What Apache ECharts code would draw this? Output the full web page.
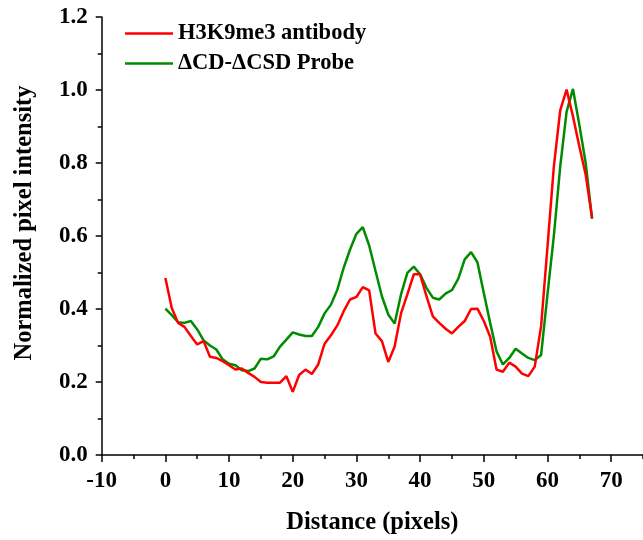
<!DOCTYPE html>
<html>
<head>
<meta charset="utf-8">
<script src="https://cdn.jsdelivr.net/npm/echarts@6/dist/echarts.min.js"></script>
<style>html,body{margin:0;padding:0;background:#fff;}#c{width:643px;height:540px;}</style>
</head>
<body>
<div id="c"></div>
<script>
const distance = [];
for (let i = 0; i <= 67; i++) distance.push(i);
const antibody = [0.485,0.403,0.362,0.351,0.326,0.303,0.312,0.269,0.266,0.257,
  0.246,0.234,0.237,0.225,0.214,0.200,0.198,0.198,0.198,0.216,
  0.173,0.219,0.234,0.222,0.248,0.305,0.328,0.355,0.394,0.426,
  0.433,0.460,0.451,0.333,0.312,0.255,0.297,0.388,0.440,0.495,
  0.495,0.435,0.380,0.362,0.346,0.333,0.351,0.367,0.400,0.401,
  0.367,0.324,0.234,0.228,0.253,0.242,0.223,0.216,0.242,0.353,
  0.570,0.790,0.944,1.001,0.928,0.846,0.768,0.650];
const probe = [0.401,0.383,0.364,0.362,0.367,0.344,0.314,0.300,0.289,0.262,
  0.250,0.246,0.232,0.230,0.237,0.264,0.262,0.270,0.297,0.316,
  0.336,0.330,0.326,0.326,0.351,0.388,0.412,0.453,0.513,0.563,
  0.606,0.624,0.574,0.504,0.435,0.385,0.360,0.440,0.499,0.516,
  0.495,0.458,0.431,0.426,0.442,0.452,0.483,0.536,0.556,0.528,
  0.444,0.362,0.284,0.248,0.266,0.291,0.278,0.266,0.260,0.274,
  0.440,0.600,0.790,0.940,1.003,0.905,0.800,0.647];
const xMajorTicks = [-10,0,10,20,30,40,50,60,70];
const seriesNames = ['H3K9me3 antibody', 'ΔCD-ΔCSD Probe'];

const font = 'Liberation Serif, Times New Roman, serif';
const chart = echarts.init(document.getElementById('c'), null, {renderer: 'canvas'});
const pair = (ys) => ys.map((y, i) => [distance[i], y]);
chart.setOption({
  animation: false,
  backgroundColor: '#fff',
  grid: {left: 101.7, right: 0, top: 17, bottom: 85, containLabel: false, outerBoundsMode: 'none'},
  legend: {
    orient: 'vertical', left: 125, top: 22, padding: 0, itemWidth: 48, itemHeight: 14, itemGap: 7,
    textStyle: {fontFamily: font, fontWeight: 'bold', fontSize: 22.5, color: '#000'},
    data: seriesNames.map(n => ({name: n, icon: 'path://M0,0H48V2.6H0Z'}))
  },
  xAxis: [{
    type: 'value', min: -10, max: 75, interval: 10,
    name: 'Distance (pixels)', nameLocation: 'middle', nameGap: 55,
    nameTextStyle: {fontFamily: font, fontWeight: 'bold', fontSize: 24.5, color: '#000'},
    axisLine: {onZero: false, lineStyle: {color: '#000', width: 1.5}},
    axisTick: {customValues: xMajorTicks, length: 7, lineStyle: {color: '#000', width: 1.5}},
    axisLabel: {margin: 15, fontFamily: font, fontWeight: 'bold', fontSize: 23, color: '#000',
      formatter: v => (xMajorTicks.indexOf(v) >= 0 ? String(v) : '')},
    splitLine: {show: false}
  }, {
    type: 'value', min: -10, max: 75, interval: 5, position: 'bottom',
    axisLine: {show: false, onZero: false},
    axisTick: {length: 4, lineStyle: {color: '#000', width: 1.5}},
    axisLabel: {show: false},
    splitLine: {show: false}
  }],
  yAxis: {
    type: 'value', min: 0, max: 1.2, interval: 0.2,
    name: 'Normalized pixel intensity', nameLocation: 'middle', nameGap: 65,
    nameTextStyle: {fontFamily: font, fontWeight: 'bold', fontSize: 24.5, color: '#000', padding: [0, 0, 0, 26]},
    axisLine: {show: true, onZero: false, lineStyle: {color: '#000', width: 1.5}},
    axisTick: {show: true, length: 6, lineStyle: {color: '#000', width: 1.5}},
    minorTick: {show: true, splitNumber: 2, length: 4, lineStyle: {color: '#000', width: 1.5}},
    axisLabel: {margin: 14, fontFamily: font, fontWeight: 'bold', fontSize: 23, color: '#000',
      formatter: v => v.toFixed(1)},
    splitLine: {show: false}
  },
  series: [{
    name: seriesNames[0], type: 'line', data: pair(antibody), symbol: 'none',
    lineStyle: {color: '#ff0000', width: 2.5}, itemStyle: {color: '#ff0000'}, z: 3
  }, {
    name: seriesNames[1], type: 'line', data: pair(probe), symbol: 'none',
    lineStyle: {color: '#008c00', width: 2.5}, itemStyle: {color: '#008c00'}, z: 2
  }]
});
</script>
</body>
</html>
